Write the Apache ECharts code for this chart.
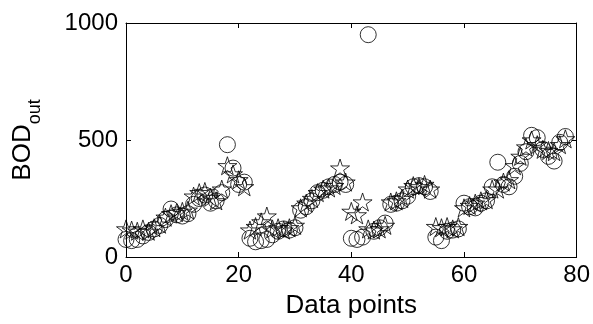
<!DOCTYPE html>
<html>
<head>
<meta charset="utf-8">
<script src="https://cdn.jsdelivr.net/npm/echarts@6/dist/echarts.min.js"></script>
<style>html,body{margin:0;padding:0;background:#fff}#c{width:593px;height:324px}</style>
</head>
<body>
<div id="c"></div>
<script>
// Data (x = 0..78)
const xValues = Array.from({length: 79}, (_, i) => i);
const circleValues = [75,70,75,90,105,120,135,160,205,180,175,185,225,250,265,230,240,275,480,380,310,320,
  80,65,70,75,95,110,120,115,125,200,215,240,275,285,300,310,320,310,
  80,75,85,950,110,125,145,225,230,240,260,300,305,300,280,
  85,70,110,115,120,230,215,210,230,240,300,405,310,300,345,400,450,520,510,460,430,410,490,515];
const starValues = [120,115,110,120,110,125,140,170,185,190,195,200,260,275,280,255,240,290,390,355,330,300,
  115,130,150,175,120,125,115,125,135,210,230,250,275,290,295,305,380,320,
  195,180,235,120,115,120,135,235,240,250,290,305,300,310,290,
  130,125,130,120,130,210,220,230,240,245,290,290,320,330,390,430,470,500,480,460,455,450,480,505];
const xTicks = [0, 20, 40, 60, 80];
const yTicks = [0, 500, 1000];

const starPath = 'path://M50 0 L61.23 34.55 L97.55 34.55 L68.16 55.9 L79.39 90.45 L50 69.1 L20.61 90.45 L31.84 55.9 L2.45 34.55 L38.77 34.55 Z';
const font = 'Liberation Sans, Arial, Helvetica, sans-serif';

const chart = echarts.init(document.getElementById('c'), null, {renderer: 'canvas'});
const axisCommon = {
  axisLine: {show: true, onZero: false, lineStyle: {color: '#000', width: 1}},
  axisTick: {show: true, inside: true, length: 5, lineStyle: {color: '#000'}},
  splitLine: {show: false}
};
chart.setOption({
  animation: false,
  backgroundColor: '#fff',
  grid: {left: 126, right: 16, top: 23, bottom: 66},
  xAxis: [
    Object.assign({type: 'value', min: 0, max: 80, interval: 20, position: 'bottom',
      name: 'Data points', nameLocation: 'middle', nameGap: 36,
      nameTextStyle: {fontFamily: font, fontSize: 26, color: '#000'},
      axisLabel: {fontFamily: font, fontSize: 24, color: '#000', margin: 6,
        formatter: v => xTicks.includes(v) ? String(v) : ''}}, axisCommon),
    Object.assign({type: 'value', min: 0, max: 80, interval: 20, position: 'top',
      axisLabel: {show: false}}, axisCommon)
  ],
  yAxis: [
    Object.assign({type: 'value', min: 0, max: 1000, interval: 500, position: 'left',
      name: '{a|BOD}{b|out}', nameLocation: 'middle', nameGap: 82,
      nameTextStyle: {color: '#000', rich: {
        a: {fontFamily: font, fontSize: 26, color: '#000'},
        b: {fontFamily: font, fontSize: 18, color: '#000', verticalAlign: 'bottom', lineHeight: 42}
      }},
      axisLabel: {fontFamily: font, fontSize: 24, color: '#000', margin: 8,
        formatter: v => yTicks.includes(v) ? String(v) : ''}}, axisCommon),
    Object.assign({type: 'value', min: 0, max: 1000, interval: 500, position: 'right',
      axisLabel: {show: false}}, axisCommon)
  ],
  series: [
    {type: 'scatter', xAxisIndex: 0, yAxisIndex: 0, symbol: 'circle', symbolSize: 16,
      itemStyle: {color: 'rgba(0,0,0,0)', borderColor: '#000', borderWidth: 1},
      data: xValues.map((x, i) => [x, circleValues[i]])},
    {type: 'scatter', xAxisIndex: 0, yAxisIndex: 0, symbol: starPath, symbolSize: 19, symbolKeepAspect: true,
      itemStyle: {color: 'rgba(0,0,0,0)', borderColor: '#000', borderWidth: 1},
      data: xValues.map((x, i) => [x, starValues[i]])}
  ]
});
</script>
</body>
</html>
